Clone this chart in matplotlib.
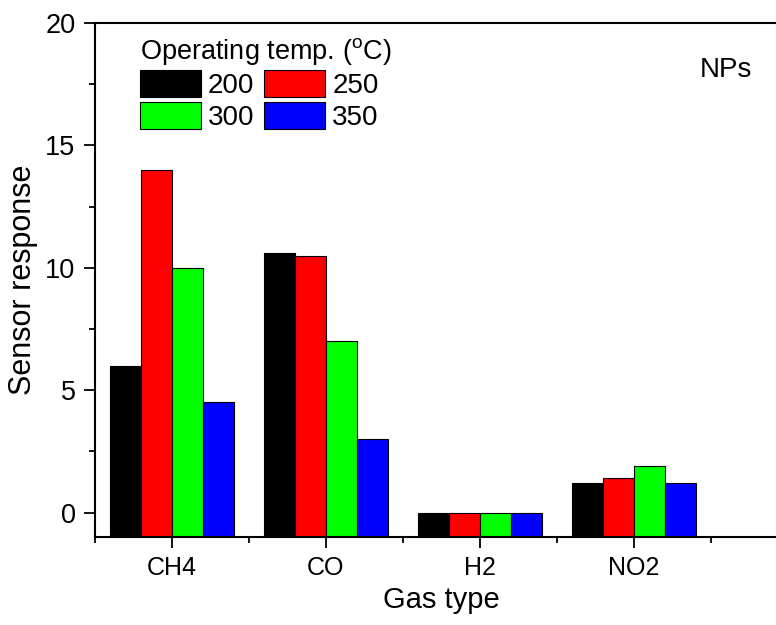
import numpy as np
import matplotlib
matplotlib.use("Agg")
import matplotlib.pyplot as plt
from matplotlib.ticker import MultipleLocator

plt.rcParams['font.family'] = ['Liberation Sans', 'DejaVu Sans']
plt.rcParams['mathtext.fontset'] = 'custom'
plt.rcParams['mathtext.rm'] = 'Liberation Sans'

# data
gases = ["CH4", "CO", "H2", "NO2"]
temps = ["200", "250", "300", "350"]
t200 = [6.0, 10.6, 0.0, 1.2]
t250 = [14.0, 10.5, 0.0, 1.4]
t300 = [10.0, 7.0, 0.0, 1.9]
t350 = [4.5, 3.0, 0.0, 1.2]
colors = ["#000000", "#ff0000", "#00ff00", "#0000ff"]

series = [t200, t250, t300, t350]
ymin = -1

fig = plt.figure(figsize=(7.76, 6.25), dpi=100)
ax = fig.add_axes([95/776, 88/625, 770/776, 514/625])

x = np.arange(1, len(gases) + 1)
w = 0.2
bars = []
for i, (vals, c, lab) in enumerate(zip(series, colors, temps)):
    v = np.array(vals)
    b = ax.bar(x + (i - 1.5)*w, v - ymin, bottom=ymin, width=w, color=c,
               edgecolor="black", linewidth=0.8, label=lab)
    bars.append(b)

ax.set_xlim(0.5, 5.5)
ax.set_ylim(ymin, 20)
ax.set_xticks(x)
ax.set_xticklabels(gases)
ax.set_xticks(np.arange(0.5, 6, 1), minor=True)
ax.yaxis.set_major_locator(MultipleLocator(5))
ax.yaxis.set_minor_locator(MultipleLocator(2.5))

for s in ax.spines.values():
    s.set_linewidth(1.5)
ax.tick_params(which="major", direction="out", length=8, width=1.3, pad=6)
ax.tick_params(which="minor", direction="out", length=4.5, width=1.3)
ax.tick_params(axis="y", labelsize=19.5)
ax.tick_params(axis="x", labelsize=18)

ax.set_xlabel("Gas type", fontsize=21)
ax.set_ylabel("Sensor response", fontsize=22)
ax.xaxis.set_label_coords(0.45, -0.095)
ax.yaxis.set_label_coords(-0.074, 0.5)

# row-wise order: 200 250 / 300 350
order = [0, 2, 1, 3]
leg = ax.legend([bars[k] for k in order], [temps[k] for k in order],
                ncol=2, frameon=False, fontsize=20, title_fontsize=19.5,
                title=r"Operating temp. ($^\mathrm{o}$C)", alignment="left",
                loc="upper left", bbox_to_anchor=(140/776, 1 - 36/625),
                bbox_transform=fig.transFigure, borderpad=0, borderaxespad=0,
                handlelength=2.2, handleheight=1.1, labelspacing=0.12,
                handletextpad=0.25, columnspacing=0.35)

fig.text(752/776, 1 - 70/625, "NPs", ha="right", va="center", fontsize=20)

plt.savefig("out.png", dpi=100)
